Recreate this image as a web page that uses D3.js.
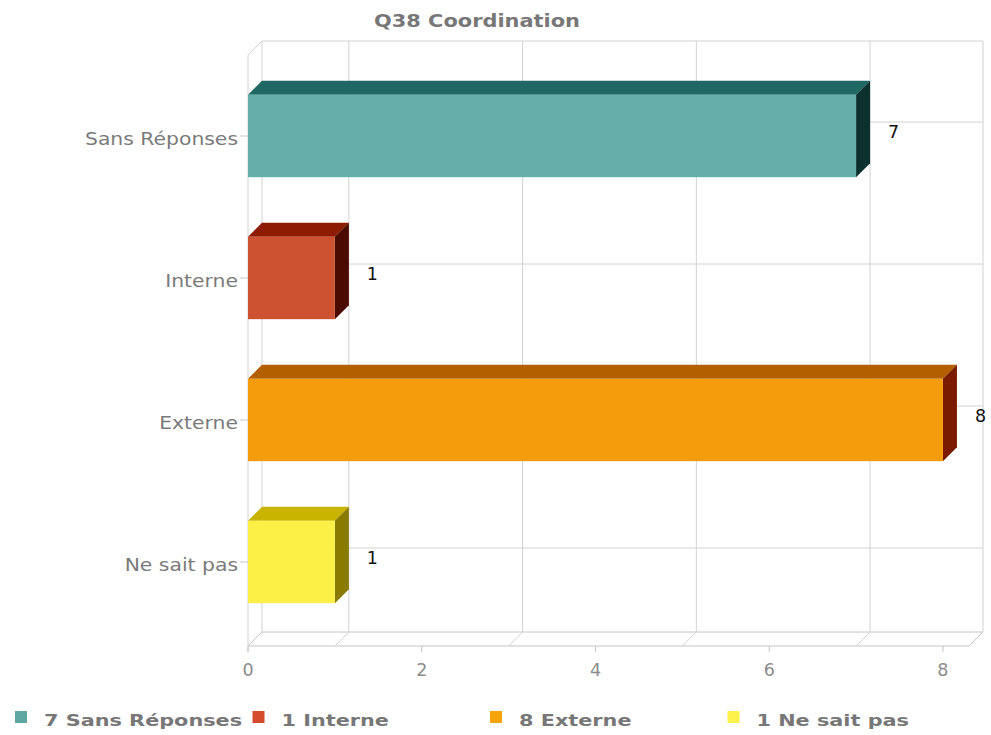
<!DOCTYPE html>
<html>
<head>
<meta charset="utf-8">
<script src="https://cdn.jsdelivr.net/npm/d3@7"></script>
<style>
  html, body { margin: 0; padding: 0; background: #fff; }
  svg { display: block; }
  text { font-family: "DejaVu Sans", Verdana, sans-serif; }
</style>
</head>
<body>
<svg id="chart" width="991" height="735"></svg>
<script>
// Survey answers for question 38
const title = "Q38 Coordination";
const categories = ["Sans Réponses", "Interne", "Externe", "Ne sait pas"];
const values = [7, 1, 8, 1];
const tickValues = [0, 2, 4, 6, 8];
const gridValues = [1, 3, 5, 7];
const axisMax = 8.3;

// Face colours of each 3D bar
const frontColors = ["#66aea9", "#cc5232", "#f59c0c", "#fcef45"];
const topColors   = ["#1f6864", "#8e1c02", "#b35f00", "#c9b400"];
const sideColors  = ["#0b302d", "#4c0b00", "#7a1b00", "#8a7b00"];
const legendColors = ["#5fa7a2", "#d44c2b", "#f7a30a", "#fdf24b"];

const svg = d3.select("#chart");
const depth = 14;
const plotLeft = 248, plotRight = 969, plotTop = 55, plotBottom = 646;

const x = d3.scaleLinear().domain([0, axisMax]).range([plotLeft, plotRight]);
const y = d3.scaleBand().domain(categories).range([65, 633])
  .paddingInner(0.42).paddingOuter(0.21);

// Widen text slightly to a Verdana-like set width
function widen(sel, k) {
  sel.each(function () {
    const len = this.getComputedTextLength();
    d3.select(this).attr("textLength", len * k).attr("lengthAdjust", "spacingAndGlyphs");
  });
}

const grid = svg.append("g").attr("fill", "none").attr("stroke-width", 1);
const gridColor = "#d2d2d2";
const bx = v => x(v) + depth;           // back-plane x
const backTop = plotTop - depth, backBottom = plotBottom - depth;

// back wall outline
grid.append("path").attr("stroke", gridColor)
  .attr("d", `M${bx(0)},${backBottom}V${backTop}H${bx(axisMax)}V${backBottom}`);
// left wall
grid.append("path").attr("stroke", gridColor)
  .attr("d", `M${x(0)},${plotBottom + 6}V${plotTop}L${bx(0)},${backTop}`);
// floor
grid.append("path").attr("stroke", "#c4c4c4")
  .attr("d", `M${x(0)},${plotBottom}H${x(axisMax)}L${bx(axisMax)},${backBottom}H${bx(0)}L${x(0)},${plotBottom}`);
// vertical grid lines on back wall and floor
gridValues.forEach(v => {
  grid.append("path").attr("stroke", gridColor)
    .attr("d", `M${x(v)},${plotBottom}L${bx(v)},${backBottom}V${backTop}`);
});
// horizontal grid lines at category centres on the back wall
categories.forEach(c => {
  const cy = y(c) + y.bandwidth() / 2 - depth;
  grid.append("line").attr("stroke", gridColor)
    .attr("x1", bx(0)).attr("x2", bx(axisMax)).attr("y1", cy).attr("y2", cy);
  grid.append("line").attr("stroke", "#c8c8c8")
    .attr("x1", x(0) - 8).attr("x2", x(0)).attr("y1", cy + depth).attr("y2", cy + depth);
});

// x axis ticks and labels
const xAxis = svg.append("g");
tickValues.forEach(v => {
  xAxis.append("line").attr("stroke", "#c4c4c4")
    .attr("x1", x(v)).attr("x2", x(v)).attr("y1", plotBottom).attr("y2", plotBottom + 6);
  xAxis.append("text").attr("x", x(v)).attr("y", 676).attr("text-anchor", "middle")
    .attr("fill", "#8c8c8c").attr("font-size", 17.5).text(v);
});

// category labels
svg.append("g").selectAll("text").data(categories).join("text")
  .attr("x", 238).attr("y", c => y(c) + y.bandwidth() / 2 + 9)
  .attr("text-anchor", "end").attr("fill", "#7a7a7a").attr("font-size", 18)
  .text(c => c)
  .call(widen, 1.13);

// 3D bars
const bars = svg.append("g").selectAll("g").data(values).join("g");
bars.each(function (v, i) {
  const g = d3.select(this);
  const x0 = x(0), x1 = x(v), y0 = y(categories[i]), h = y.bandwidth();
  g.append("path").attr("fill", topColors[i])
    .attr("d", `M${x0},${y0}L${x0 + depth},${y0 - depth}L${x1 + depth},${y0 - depth}L${x1},${y0}Z`);
  g.append("path").attr("fill", sideColors[i])
    .attr("d", `M${x1},${y0}L${x1 + depth},${y0 - depth}L${x1 + depth},${y0 + h - depth}L${x1},${y0 + h}Z`);
  g.append("rect").attr("fill", frontColors[i])
    .attr("x", x0).attr("y", y0).attr("width", x1 - x0).attr("height", h);
  // value label
  g.append("text").attr("x", x1 + depth + 18).attr("y", y0 + h / 2 - depth + 16)
    .attr("fill", "#111").attr("font-size", 17.5).text(v);
});

// title
svg.append("text").attr("x", 477).attr("y", 27).attr("text-anchor", "middle")
  .attr("fill", "#777").attr("font-size", 18.5).attr("font-weight", "bold")
  .text(title).call(widen, 1.13);

// legend
const legend = svg.append("g").selectAll("g").data(categories).join("g")
  .attr("transform", (d, i) => `translate(${15 + i * 237.5},711)`);
legend.append("rect").attr("width", 12).attr("height", 12)
  .attr("fill", (d, i) => legendColors[i]);
legend.append("text").attr("x", 29).attr("y", 15)
  .attr("fill", "#777").attr("font-size", 16.5).attr("font-weight", "bold")
  .text((d, i) => `${values[i]} ${d}`)
  .call(widen, 1.26);
</script>
</body>
</html>
